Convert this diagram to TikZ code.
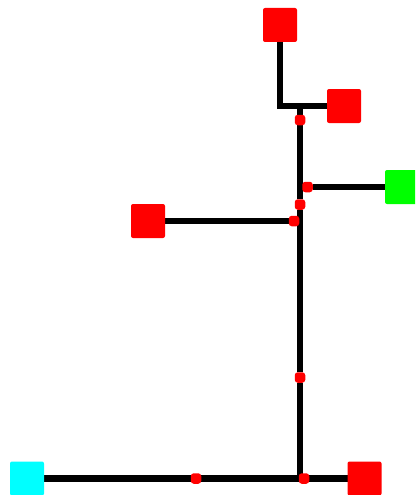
\documentclass[tikz,border=0pt]{standalone}
\usetikzlibrary{backgrounds}
\definecolor{termred}{RGB}{255,0,0}
\definecolor{termgreen}{RGB}{0,255,0}
\definecolor{termcyan}{RGB}{0,255,255}
\tikzset{
  term/.style={rectangle,rounded corners=2pt,minimum size=34pt,inner sep=0pt,outer sep=0pt,fill=#1,draw=none},
  tap/.style={rectangle,rounded corners=3pt,minimum size=10.5pt,inner sep=0pt,outer sep=0pt,fill=termred,draw=none},
  wire/.style={draw=black,line width=6.8pt,miter limit=10}
}
\begin{document}
\begin{tikzpicture}[x=1pt,y=-1pt]
\path[use as bounding box,clip] (0,0) rectangle (415,495);
\node[term=termred] (top) at (280,25) {};
\node[term=termred] (upper) at (344,106) {};
\node[term=termgreen] (src) at (402,187) {};
\node[term=termred] (left) at (148,221) {};
\node[term=termcyan] (base) at (27,478.5) {};
\node[term=termred] (right) at (364.5,478.5) {};
\node[tap] (t1) at (300,120) {};
\node[tap] (t2) at (307.5,187) {};
\node[tap] (t3) at (300,204.5) {};
\node[tap] (t4) at (294,221) {};
\node[tap] (t5) at (300,377.5) {};
\node[tap] (t6) at (196,478.5) {};
\node[tap] (t7) at (304,478.5) {};
\coordinate (corner) at (280,106);
\coordinate (jtop) at (300,106);
\coordinate (jbot) at (300,478.5);
\begin{scope}[on background layer]
\draw[wire] (top) -- (corner) -- (upper);
\draw[wire] (jtop) -- (t1);
\draw[wire] (t1) -- (t3);
\draw[wire] (t3) -- (t5);
\draw[wire] (t5) -- (jbot);
\draw[wire] (src) -- (t2);
\draw[wire] (left) -- (t4);
\draw[wire] (base) -- (t6);
\draw[wire] (t6) -- (t7);
\draw[wire] (t7) -- (right);
\end{scope}
\end{tikzpicture}
\end{document}
